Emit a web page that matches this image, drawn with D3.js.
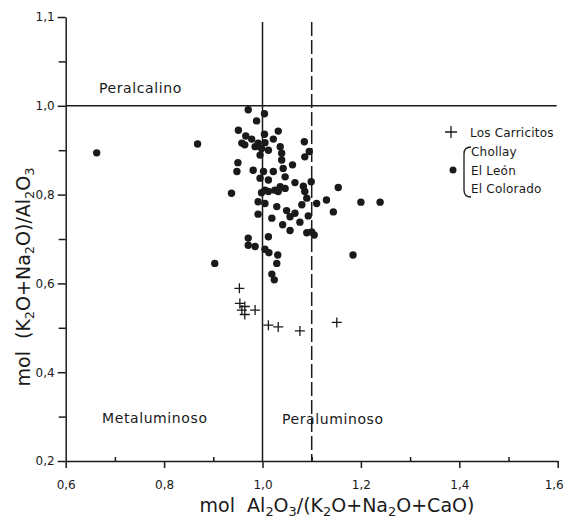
<!DOCTYPE html>
<html lang="es">
<head>
    <meta charset="UTF-8">
    <title>Diagrama A/CNK vs A/NK</title>
    <script src="https://d3js.org/d3.v7.min.js"></script>
    <style>
        body { margin: 0; background: #fff; }
        svg { display: block; font-family: "DejaVu Sans", sans-serif; }
        text { fill: #1a1a1a; white-space: pre; }
    </style>
</head>
<body>
    <div id="chart"></div>

    <script>
        // Chollay / El León / El Colorado (dots)
        const dotX = [0.971, 1.004, 0.988, 0.951, 1.004, 1.032, 0.966, 0.978, 0.958, 0.964,
                      0.991, 1.005, 1.022, 0.985, 0.998, 1.012, 1.036, 1.085, 1.095, 1.086,
                      1.039, 0.995, 1.039, 0.950, 0.948, 1.061, 0.981, 1.002, 1.022, 1.042,
                      1.046, 0.995, 1.012, 1.066, 1.099, 1.083, 1.036, 1.005, 1.025, 1.046,
                      0.937, 1.154, 1.086, 0.998, 1.012, 1.032, 1.090, 0.991, 1.005, 1.029,
                      1.080, 1.110, 1.130, 1.144, 0.991, 1.049, 1.066, 1.056, 1.093, 1.019,
                      1.076, 1.041, 1.056, 1.090, 1.100, 1.105, 0.971, 1.012, 0.971, 0.985,
                      1.005, 1.013, 1.031, 1.029, 1.019, 1.024, 0.663, 0.868, 0.903, 1.200,
                      1.239, 1.184];
        const dotY = [0.991, 0.982, 0.966, 0.945, 0.936, 0.943, 0.932, 0.925, 0.916, 0.912,
                      0.916, 0.917, 0.925, 0.908, 0.904, 0.900, 0.908, 0.919, 0.897, 0.885,
                      0.893, 0.889, 0.878, 0.872, 0.852, 0.867, 0.855, 0.852, 0.852, 0.859,
                      0.840, 0.837, 0.833, 0.827, 0.829, 0.819, 0.818, 0.810, 0.810, 0.814,
                      0.803, 0.816, 0.807, 0.804, 0.807, 0.807, 0.792, 0.784, 0.780, 0.773,
                      0.777, 0.780, 0.788, 0.761, 0.756, 0.764, 0.758, 0.750, 0.752, 0.747,
                      0.738, 0.732, 0.719, 0.714, 0.716, 0.709, 0.702, 0.705, 0.686, 0.683,
                      0.677, 0.669, 0.664, 0.645, 0.621, 0.608, 0.894, 0.914, 0.645, 0.783,
                      0.783, 0.664];

        // Los Carricitos (crosses)
        const crossX = [0.953, 0.954, 0.964, 0.958, 0.964, 0.985, 1.012, 1.032, 1.076, 1.151];
        const crossY = [0.589, 0.555, 0.548, 0.540, 0.530, 0.540, 0.506, 0.502, 0.493, 0.512];

        const xMajor = [0.6, 0.8, 1.0, 1.2, 1.4, 1.6];
        const xMinor = [0.7, 0.9, 1.1, 1.3, 1.5];
        const xTickLabels = ["0,6", "0,8", "1,0", "1,2", "1,4", "1,6"];
        const yMajor = [0.2, 0.4, 0.6, 0.8, 1.0, 1.2];
        const yMinor = [0.3, 0.5, 0.7, 0.9, 1.1];
        const yTickLabels = ["0,2", "0,4", "0,6", "0,8", "1,0", "1,1"];

        const legendNames = ["Chollay", "El León", "El Colorado"];

        const width = 566, height = 519;
        const ink = "#1a1a1a";

        const svg = d3.select("#chart").append("svg")
            .attr("width", width).attr("height", height);

        const x = d3.scaleLinear().domain([0.6, 1.6]).range([65.7, 557.7]);
        const y = d3.scaleLinear().domain([0.2, 1.2]).range([461, 17]);

        // axes
        svg.append("g").attr("transform", `translate(0,${y(0.2)})`)
            .call(d3.axisBottom(x).tickValues(xMajor).tickSize(7).tickSizeOuter(0).tickPadding(12)
                .tickFormat((d, i) => xTickLabels[i]))
            .selectAll(".tick text")
            .attr("dx", d => d === 1.6 ? -4 : 0);
        svg.append("g").attr("transform", `translate(0,${y(0.2)})`)
            .call(d3.axisBottom(x).tickValues(xMinor).tickSize(-4).tickSizeOuter(0).tickFormat(""))
            .select(".domain").remove();

        svg.append("g").attr("transform", `translate(${x(0.6)},0)`)
            .call(d3.axisLeft(y).tickValues(yMajor).tickSize(8).tickSizeOuter(0).tickPadding(3)
                .tickFormat((d, i) => yTickLabels[i]));
        svg.append("g").attr("transform", `translate(${x(0.6)},0)`)
            .call(d3.axisLeft(y).tickValues(yMinor).tickSize(7).tickSizeOuter(0).tickFormat(""))
            .select(".domain").remove();

        svg.selectAll(".domain, .tick line").attr("stroke", ink).attr("stroke-width", 1.5);
        svg.selectAll(".tick text").attr("font-size", 12).attr("font-family", "DejaVu Sans").attr("fill", ink);

        // reference lines
        svg.append("line")
            .attr("x1", x(0.6)).attr("x2", x(1.6) - 1)
            .attr("y1", y(1.0)).attr("y2", y(1.0))
            .attr("stroke", ink).attr("stroke-width", 1.5);
        svg.append("line")
            .attr("x1", x(1.0)).attr("x2", x(1.0))
            .attr("y1", y(1.2) + 5).attr("y2", y(0.2))
            .attr("stroke", ink).attr("stroke-width", 1.5);
        svg.append("line")
            .attr("x1", x(1.1)).attr("x2", x(1.1))
            .attr("y1", y(1.2) + 5).attr("y2", y(0.2))
            .attr("stroke", ink).attr("stroke-width", 1.5)
            .attr("stroke-dasharray", "14,4");

        // points
        const dots = d3.zip(dotX, dotY);
        svg.append("g").selectAll("circle")
            .data(dots)
            .enter().append("circle")
            .attr("cx", d => x(d[0]))
            .attr("cy", d => y(d[1]))
            .attr("r", 3.7)
            .attr("fill", ink);

        const crosses = d3.zip(crossX, crossY);
        svg.append("g").selectAll("path")
            .data(crosses)
            .enter().append("path")
            .attr("d", d => `M${x(d[0]) - 5},${y(d[1])}h10M${x(d[0])},${y(d[1]) - 5}v10`)
            .attr("stroke", ink).attr("stroke-width", 1.3).attr("fill", "none");

        // region labels
        const region = (txt, px, py) => svg.append("text")
            .attr("x", px).attr("y", py)
            .attr("font-size", 14).attr("letter-spacing", 0.6)
            .text(txt);
        region("Peralcalino", 99, 93);
        region("Metaluminoso", 102, 423);
        region("Peraluminoso", 282, 424);

        // legend
        svg.append("path")
            .attr("d", "M451,132h-6M451,132h6M451,132v-6M451,132v6")
            .attr("stroke", ink).attr("stroke-width", 1.3);
        svg.append("text").attr("x", 470).attr("y", 137)
            .attr("font-size", 12).attr("letter-spacing", 0.2).text("Los Carricitos");
        svg.append("circle").attr("cx", 453).attr("cy", 170).attr("r", 3.5).attr("fill", ink);
        svg.append("path")
            .attr("d", "M471,147Q464,147 464,154L464,190Q464,197 471,197")
            .attr("stroke", ink).attr("stroke-width", 1.3).attr("fill", "none");
        svg.append("g").selectAll("text")
            .data(legendNames)
            .enter().append("text")
            .attr("x", 471)
            .attr("y", (d, i) => 156 + i * 18.5)
            .attr("font-size", 12).attr("letter-spacing", 0.2)
            .text(d => d);

        // axis titles with subscripts (digits are subscripts)
        function richText(sel, parts, size) {
            const shift = size * 0.22;
            let down = false;
            parts.forEach(p => {
                const sub = /^\d$/.test(p);
                let dy = 0;
                if (sub && !down) { dy = shift; down = true; }
                else if (!sub && down) { dy = -shift; down = false; }
                sel.append("tspan")
                    .attr("font-size", sub ? size * 0.68 : size)
                    .attr("dy", dy)
                    .text(p);
            });
        }

        const xTitle = svg.append("text")
            .attr("x", 337).attr("y", 512)
            .attr("font-size", 19)
            .attr("text-anchor", "middle");
        richText(xTitle, ["mol  Al", "2", "O", "3", "/(K", "2", "O+Na", "2", "O+CaO)"], 19);

        const yTitle = svg.append("text")
            .attr("transform", `translate(30,277) rotate(-90)`)
            .attr("font-size", 19)
            .attr("text-anchor", "middle");
        richText(yTitle, ["mol  (K", "2", "O+Na", "2", "O)/Al", "2", "O", "3"], 19);
    </script>
</body>
</html>
